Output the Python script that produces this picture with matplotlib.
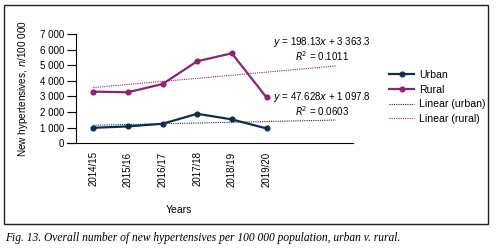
import matplotlib
matplotlib.use("Agg")
import matplotlib.pyplot as plt
from matplotlib.patches import Rectangle
import numpy as np

plt.rcParams['font.family'] = ['Liberation Sans Narrow', 'Liberation Sans', 'DejaVu Sans']
plt.rcParams['mathtext.fontset'] = 'custom'
plt.rcParams['mathtext.it'] = 'Liberation Sans Narrow:italic'
plt.rcParams['mathtext.rm'] = 'Liberation Sans Narrow'

years = ['2014/15', '2015/16', '2016/17', '2017/18', '2018/19', '2019/20']
urban = [980, 1070, 1240, 1880, 1520, 940]
rural = [3300, 3260, 3790, 5250, 5760, 2930]

# trendline coefficients as printed on the chart (x = 1..n, forecast 2 periods)
urban_fit = (47.628, 1097.8, 0.0603)
rural_fit = (198.13, 3363.3, 0.1011)
forecast = 2

c_urban = '#0f2d4d'
c_rural = '#8b2377'

fig = plt.figure(figsize=(4.96, 2.48), dpi=100)
ax = fig.add_axes([0.153, 0.423, 0.559, 0.44])

x = np.arange(len(years))
ax.plot(x, urban, color=c_urban, lw=1.6, marker='o', ms=3.4, label='Urban', zorder=3)
ax.plot(x, rural, color=c_rural, lw=1.6, marker='o', ms=3.4, label='Rural', zorder=3)

xt = np.array([0, len(years) - 1 + forecast])
ax.plot(xt, urban_fit[0] * (xt + 1) + urban_fit[1], color=c_urban, lw=0.8,
        ls=(0, (1, 1)), label='Linear (urban)', zorder=2)
ax.plot(xt, rural_fit[0] * (xt + 1) + rural_fit[1], color=c_rural, lw=0.8,
        ls=(0, (1, 1)), label='Linear (rural)', zorder=2)

ax.set_xlim(-0.5, 7.5)
ax.set_ylim(0, 7000)
ax.set_yticks(range(0, 7001, 1000))
ax.set_yticklabels(['{:,}'.format(v).replace(',', ' ') for v in range(0, 7001, 1000)])
ax.set_xticks(x)
ax.set_xticklabels(years, rotation=90)
ax.tick_params(axis='y', length=6.5, width=0.8, labelsize=7, pad=2)
ax.tick_params(axis='x', length=0, labelsize=7, pad=6)
for s in ['top', 'right']:
    ax.spines[s].set_visible(False)
ax.spines['left'].set_linewidth(0.8)
ax.spines['bottom'].set_linewidth(0.8)
ax.spines['bottom'].set_bounds(-0.75, 7.5)
ax.spines['bottom'].set_clip_on(False)

ax.set_ylabel('New hypertensives, $\\mathit{n}$/100 000', fontsize=7.2, labelpad=7)
ax.set_xlabel('Years', fontsize=7.5, labelpad=10)
ax.xaxis.set_label_coords(0.372, -0.57)

def eq(m, b):
    bs = '{:,.1f}'.format(b).replace(',', ' ')
    return '$y$ = {}$x$ + {}'.format(m, bs)

ax.text(6.6, 6480, eq(rural_fit[0], rural_fit[1]), fontsize=7, ha='center', va='center')
ax.text(6.6, 5600, '$R$$^2$ = {}'.format(rural_fit[2]), fontsize=7, ha='center', va='center')
ax.text(6.6, 2950, eq(urban_fit[0], urban_fit[1]), fontsize=7, ha='center', va='center')
ax.text(6.6, 2050, '$R$$^2$ = {}'.format(urban_fit[2]), fontsize=7, ha='center', va='center')

ax.legend(loc='upper left', bbox_to_anchor=(1.11, 0.72), frameon=False, fontsize=7.6,
          handlelength=2.4, handletextpad=0.45, labelspacing=0.45, borderpad=0)

fig.patches.append(Rectangle((4 / 496, 1 - 224 / 248), 484 / 496, 219 / 248,
                             transform=fig.transFigure, fill=False, ec='#222222', lw=1.0))
fig.text(5 / 496, 1 - 238 / 248,
         'Fig. 13. Overall number of new hypertensives per 100 000 population, urban v. rural.',
         fontsize=8.3, style='italic', family=['Liberation Serif', 'DejaVu Serif'],
         va='center', ha='left')

fig.savefig('out.png', dpi=100)
